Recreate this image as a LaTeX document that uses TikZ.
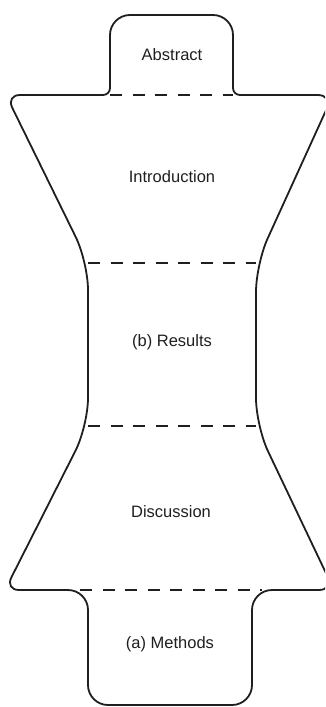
\documentclass[tikz,border=0pt]{standalone}
\usepackage{fontspec}
\setmainfont{Liberation Sans}
\begin{document}
\begin{tikzpicture}[x=1pt,y=-1pt,
  outline/.style={line width=1.8pt, draw=black!88, line join=round},
  divider/.style={line width=2.2pt, draw=black!88, dash pattern=on 12pt off 10.5pt},
  label/.style={font=\fontsize{16.5}{20}\selectfont, text=black!88, anchor=base, inner sep=0pt}]
\useasboundingbox (0,0) rectangle (325,707);
\clip (0,0) rectangle (325,707);

% hourglass outline of the paper sections
\draw[outline]
  (171,15)
  [rounded corners=20pt] -- (233,15)
  [rounded corners=7pt]  -- (233,95)
  [rounded corners=15pt] -- (333,95)
  [rounded corners=28pt] -- (256,264)
  [rounded corners=28pt] -- (256,426)
  [rounded corners=15pt] -- (334,590)
  [rounded corners=20pt] -- (252,590)
  [rounded corners=20pt] -- (252,705)
  [rounded corners=20pt] -- (88,705)
  [rounded corners=20pt] -- (88,590)
  [rounded corners=14pt] -- (5,590)
  [rounded corners=28pt] -- (88,426)
  [rounded corners=28pt] -- (88,262)
  [rounded corners=14pt] -- (6,95)
  [rounded corners=7pt]  -- (110,95)
  [rounded corners=20pt] -- (110,15)
  [sharp corners] -- cycle;

% section dividers
\draw[divider] (110,95) -- (233,95);
\draw[divider] (88,263) -- (256,263);
\draw[divider] (88,426) -- (256,426);
\draw[divider] (80,590) -- (262,590);

% section labels
\node[label] (abstract)   at (172,60)  {Abstract};
\node[label] (intro)      at (172,182) {Introduction};
\node[label] (results)    at (172,346) {(b) Results};
\node[label] (discussion) at (171,517) {Discussion};
\node[label] (methods)    at (170,648) {(a) Methods};
\end{tikzpicture}
\end{document}
